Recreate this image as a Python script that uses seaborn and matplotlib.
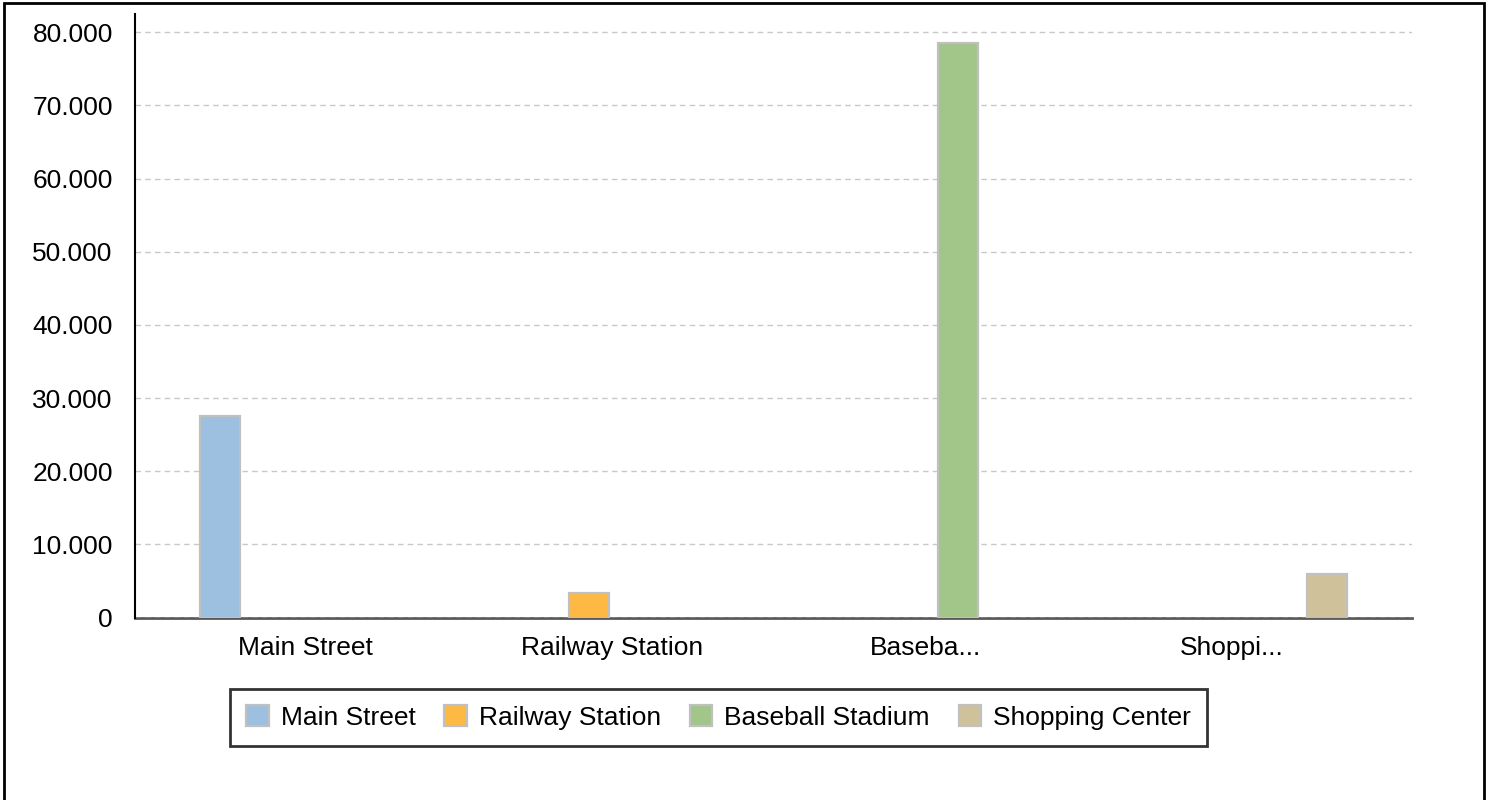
import pandas as pd
import seaborn as sns
import matplotlib.pyplot as plt
from matplotlib.patches import Patch, Rectangle
from matplotlib.ticker import FuncFormatter
from matplotlib.transforms import ScaledTranslation

#  Данные
locations = ["Main Street", "Railway Station", "Baseball Stadium", "Shopping Center"]
tick_labels = ["Main Street", "Railway Station", "Baseba...", "Shoppi..."]
visitors = [27500, 3400, 78500, 5900]
colors = ["#9dbfe0", "#fdb944", "#a2c58a", "#cfc29b"]

df = pd.DataFrame({"location": locations, "visitors": visitors})

sns.set_theme(style="white")
plt.rcParams["font.family"] = ["Liberation Sans", "DejaVu Sans"]
plt.rcParams["text.color"] = "black"

fig = plt.figure(figsize=(14.92, 8), dpi=100)
ax = fig.add_axes([0.0905, 0.2281, 0.8559, 0.7544])

sns.barplot(data=df, x="location", y="visitors", hue="location",
            hue_order=locations, order=locations, palette=colors,
            dodge=True, width=0.6265, gap=0.2, legend=False,
            edgecolor="#c0c0c0", linewidth=1.6, saturation=1, ax=ax)

ax.set_xlim(-0.5, 3.5)
ax.set_ylim(0, 82500)
ax.set_yticks(range(0, 80001, 10000))
ax.yaxis.set_major_formatter(FuncFormatter(lambda v, p: f"{v:,.0f}".replace(",", ".")))
ax.set_xticks(range(len(locations)))
ax.set_xticklabels(tick_labels)
ax.set_xlabel("")
ax.set_ylabel("")
ax.tick_params(axis="y", length=0, pad=16, labelsize=19, colors="black")
ax.tick_params(axis="x", length=0, pad=13, labelsize=19, colors="black")

# подписи по оси X сдвинуты как в оригинале
shifts = [11, -1.5, -8, -21]
for lbl, dx in zip(ax.get_xticklabels(), shifts):
    lbl.set_transform(lbl.get_transform() + ScaledTranslation(dx / 100, 0, fig.dpi_scale_trans))

ax.grid(axis="y", color="#c8c8c8", linestyle=(0, (4, 3)), linewidth=1)
ax.set_axisbelow(False)
for b in ax.patches:
    b.set_zorder(3)
for line in ax.get_ygridlines():
    line.set_zorder(2)

for s in ["top", "right"]:
    ax.spines[s].set_visible(False)
ax.spines["left"].set_color("black")
ax.spines["left"].set_linewidth(1.5)
ax.spines["left"].set_zorder(5)
ax.spines["bottom"].set_color("#5a5a5a")
ax.spines["bottom"].set_linewidth(2)
ax.spines["bottom"].set_zorder(1)

#  Легенда
handles = [Patch(facecolor=c, edgecolor="#c0c0c0", linewidth=1.6) for c in colors]
leg = fig.legend(handles, locations, loc="center", bbox_to_anchor=(0.4816, 0.103),
                 ncol=4, fontsize=19, frameon=True, fancybox=False,
                 handlelength=0.85, handleheight=0.85, handletextpad=0.45,
                 columnspacing=1.1, borderpad=0.6, labelcolor="black")
leg.get_frame().set_edgecolor("black")
leg.get_frame().set_linewidth(2)

#  Рамка вокруг рисунка
fig.add_artist(Rectangle((0.0028, -0.01), 0.9917, 1.006, transform=fig.transFigure,
                         fill=False, edgecolor="black", linewidth=2))

fig.savefig("out.png", dpi=100)
